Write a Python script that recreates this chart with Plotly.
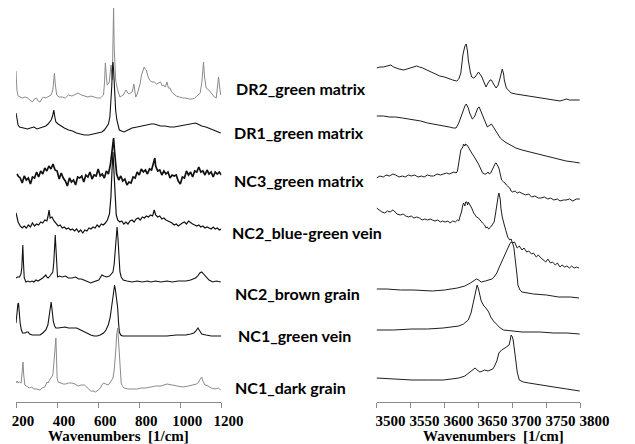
import plotly.graph_objects as go

# ---------------- DATA ----------------
SAMPLES = ["DR2_green matrix", "DR1_green matrix", "NC3_green matrix",
           "NC2_blue-green vein", "NC2_brown grain", "NC1_green vein", "NC1_dark grain"]

LOW_TICKS = [200, 400, 600, 800, 1000, 1200]
HIGH_TICKS = [3500, 3550, 3600, 3650, 3700, 3750, 3800]

# (wavenumber [1/cm], relative intensity)
DR2_LOW = [(200,31),(204,12),(210,6),(217,5),(230,4),(245,5),(256,4),(268,2),(279,0),(290,3),(299,4),(308,1),(317,0),(325,3),(333,5),(345,4),(356,5),(364,6),(371,7),(379,12),(384,24),(387,29),(391,18),(398,7),(410,5),(425,5),(440,4),(455,7),(472,6),(490,8),(502,9),(518,7),(533,6),(550,5),(565,6),(580,5),(595,4),(611,4),(620,6),(626,7),(631,20),(635,39),(640,25),(644,17),(649,18),(654,20),(659,30),(663,37),(666,28),(669,22),(672,60),(675,94),(678,55),(681,28),(685,22),(695,12),(706,5),(714,6),(722,7),(730,10),(737,12),(744,9),(750,8),(758,9),(765,10),(770,14),(774,18),(778,12),(783,5),(790,8),(796,12),(804,18),(811,27),(818,31),(824,35),(829,33),(834,32),(842,26),(850,22),(862,20),(873,20),(885,18),(896,19),(904,20),(912,16),(919,17),(927,15),(935,20),(942,14),(950,14),(958,10),(965,9),(980,6),(996,5),(1012,4),(1027,4),(1043,3),(1058,3),(1070,4),(1081,6),(1090,8),(1097,9),(1105,20),(1109,35),(1113,40),(1118,25),(1126,14),(1139,12),(1151,9),(1160,7),(1166,5),(1175,4),(1180,12),(1186,25),(1192,14),(1197,7)]

DR1_LOW = [(200,19),(205,12),(210,7),(217,5),(235,4),(256,3),(270,4),(287,5),(302,3),(318,4),(333,5),(345,6),(356,8),(365,10),(371,12),(378,16),(384,22),(389,15),(394,10),(405,8),(418,6),(435,4),(456,2),(475,1),(495,-1),(515,-2),(533,-3),(555,-3),(580,-2),(600,-1),(618,0),(630,2),(641,5),(650,8),(657,15),(662,27),(666,45),(669,62),(672,70),(675,62),(678,48),(681,35),(685,22),(691,12),(697,6),(703,2),(714,1),(726,0),(745,2),(765,4),(790,5),(811,6),(840,7),(858,8),(873,8),(890,7),(904,6),(925,6),(950,5),(970,5),(996,6),(1020,7),(1043,8),(1060,8),(1074,9),(1085,8),(1104,6),(1125,5),(1151,3),(1175,1),(1197,-1)]

NC3_LOW = [(205,8),(210,6),(220,4),(230,-1),(240,6),(250,2),(260,4),(270,-2),(280,5),(290,4),(300,10),(310,5),(320,11),(330,8),(340,14),(350,11),(360,16),(370,13),(380,18),(390,12),(400,11),(410,3),(420,9),(430,4),(440,1),(450,-4),(460,4),(470,0),(480,2),(490,-3),(500,5),(510,4),(520,6),(530,0),(540,7),(550,5),(560,10),(570,3),(580,7),(590,6),(600,13),(610,6),(620,8),(630,4),(640,11),(650,8),(660,18),(665,28),(670,40),(675,44),(680,30),(685,15),(690,8),(700,2),(710,6),(720,1),(730,3),(740,-3),(750,0),(760,-1),(770,5),(780,4),(790,10),(800,7),(810,13),(820,10),(830,12),(840,8),(850,13),(860,12),(870,20),(876,24),(880,16),(890,11),(900,12),(910,7),(920,11),(930,8),(940,10),(950,4),(960,7),(970,6),(980,7),(990,1),(1000,-2),(1010,5),(1020,4),(1030,11),(1040,7),(1050,10),(1060,5),(1070,11),(1080,10),(1090,15),(1100,10),(1110,11),(1120,7),(1130,12),(1140,8),(1150,10),(1160,5),(1170,10),(1180,8),(1190,10),(1200,7)]

NC2B_LOW = [(200,19),(210,10),(220,6),(230,4),(240,6),(250,4),(260,7),(270,5),(280,9),(290,6),(300,8),(310,7),(320,10),(330,9),(340,12),(350,11),(355,15),(361,22),(366,14),(375,15),(385,11),(395,9),(405,6),(415,7),(425,4),(435,5),(445,3),(455,4),(465,2),(475,3),(485,1),(495,3),(505,0),(515,2),(525,-1),(535,2),(545,1),(555,4),(565,3),(575,5),(585,4),(595,7),(605,5),(615,8),(625,7),(635,9),(645,12),(655,18),(662,35),(667,60),(672,80),(677,60),(682,35),(688,17),(695,12),(705,10),(715,11),(725,8),(735,10),(745,8),(755,11),(765,12),(775,10),(785,13),(795,14),(805,12),(815,15),(825,14),(835,16),(845,15),(855,17),(865,16),(873,22),(880,17),(890,15),(900,16),(910,13),(920,14),(930,12),(940,11),(950,10),(960,9),(970,7),(980,8),(990,6),(1000,8),(1010,9),(1020,10),(1030,8),(1040,11),(1050,9),(1060,8),(1070,7),(1080,6),(1090,7),(1100,5),(1110,6),(1120,4),(1130,5),(1140,4),(1150,3),(1160,5),(1170,3),(1180,4),(1190,2),(1200,3)]

NC2BR_LOW = [(200,4),(207,5),(217,5),(224,8),(228,14),(231,30),(233,37),(236,20),(240,4),(248,0),(258,1),(268,0),(278,1),(287,0),(297,2),(307,1),(317,2),(330,4),(340,6),(345,7),(350,5),(356,4),(365,6),(372,8),(379,10),(384,20),(387,32),(391,47),(394,35),(396,27),(399,12),(402,5),(412,6),(425,5),(440,6),(455,4),(472,4),(490,5),(505,3),(518,3),(530,2),(545,1),(555,0),(564,-1),(575,0),(590,1),(603,2),(612,5),(618,7),(628,6),(641,5),(655,6),(665,8),(672,10),(678,18),(684,32),(688,45),(692,55),(696,45),(700,32),(703,18),(706,10),(712,5),(722,2),(740,1),(765,0),(790,1),(815,0),(840,1),(857,0),(880,1),(905,0),(935,1),(960,0),(990,1),(1027,1),(1050,2),(1065,3),(1074,4),(1085,6),(1095,9),(1104,10),(1112,8),(1120,6),(1127,5),(1140,2),(1158,0),(1175,1),(1197,0)]

NC1G_LOW = [(200,14),(205,27),(209,33),(212,34),(215,22),(220,14),(226,7),(232,4),(245,4),(252,5),(259,5),(266,3),(279,2),(298,2),(317,2),(330,4),(345,7),(355,12),(361,19),(366,28),(371,35),(375,28),(379,20),(382,15),(388,11),(394,9),(405,9),(425,10),(440,10),(455,9),(472,9),(495,9),(515,7),(533,5),(550,3),(564,2),(580,1),(595,1),(610,2),(626,4),(638,7),(649,12),(658,19),(664,29),(670,40),(675,48),(680,52),(684,47),(689,38),(695,29),(699,15),(703,5),(710,2),(719,1),(750,1),(780,1),(820,1),(857,1),(900,1),(935,1),(980,2),(1027,2),(1050,3),(1066,4),(1076,6),(1086,9),(1095,6),(1104,3),(1125,2),(1151,1),(1175,1),(1200,1)]

NC1D_LOW = [(200,9),(205,11),(210,9),(217,10),(225,9),(229,18),(232,28),(234,30),(237,18),(240,9),(243,7),(250,6),(256,5),(265,4),(275,5),(287,3),(300,3),(317,2),(328,4),(340,5),(351,10),(356,9),(363,12),(370,14),(379,17),(384,28),(388,42),(391,50),(394,54),(397,35),(400,14),(405,10),(418,9),(430,8),(441,8),(455,9),(472,9),(487,8),(502,6),(518,7),(533,7),(548,4),(564,1),(575,1),(587,0),(600,2),(611,4),(618,7),(626,9),(637,8),(649,7),(660,10),(672,14),(678,22),(683,32),(687,45),(690,57),(693,63),(695,64),(698,55),(700,47),(703,35),(706,22),(709,14),(712,9),(718,6),(726,4),(745,3),(765,3),(790,3),(810,4),(830,4),(857,5),(880,6),(905,6),(935,8),(960,7),(985,6),(1012,5),(1040,6),(1066,7),(1080,8),(1089,10),(1097,13),(1104,15),(1110,11),(1120,7),(1135,6),(1151,4),(1170,3),(1185,4),(1197,2)]

DR2_HIGH = [(3500,34),(3505,35),(3510,35),(3515,36),(3521,37),(3525,35),(3528,34),(3533,33),(3540,32),(3545,33),(3549,34),(3554,35),(3559,36),(3563,35),(3568,34),(3574,32),(3580,30),(3587,28),(3593,26),(3600,25),(3607,23),(3612,22),(3618,21),(3621,23),(3624,29),(3627,47),(3630,56),(3632,58),(3634,50),(3635,42),(3638,30),(3640,25),(3643,24),(3645,25),(3648,28),(3650,30),(3652,28),(3655,25),(3658,20),(3661,15),(3664,19),(3667,22),(3669,22),(3671,19),(3673,17),(3676,14),(3679,17),(3681,22),(3683,28),(3685,33),(3687,28),(3688,22),(3691,14),(3695,11),(3698,9),(3705,8),(3714,7),(3722,6),(3733,5),(3742,4),(3752,3),(3760,2),(3766,1),(3770,1),(3775,2),(3779,3),(3784,2),(3790,2),(3799,2)]

DR1_HIGH = [(3500,16),(3510,16),(3519,15),(3528,15),(3538,14),(3547,13),(3556,12),(3565,11),(3575,9),(3584,8),(3593,7),(3600,6),(3607,5),(3613,4),(3617,4),(3621,9),(3624,15),(3627,22),(3630,26),(3632,28),(3635,24),(3637,19),(3641,13),(3644,15),(3647,20),(3649,24),(3651,25),(3653,22),(3656,17),(3660,10),(3663,5),(3666,7),(3669,8),(3671,6),(3673,4),(3677,-1),(3682,-6),(3689,-10),(3696,-13),(3705,-16),(3714,-18),(3726,-20),(3738,-22),(3750,-24),(3761,-26),(3770,-27),(3779,-29),(3790,-30),(3799,-31)]

NC3_HIGH = [(3500,4),(3505,6),(3510,5),(3514,7),(3519,6),(3524,8),(3528,7),(3533,5),(3538,6),(3542,5),(3547,7),(3551,6),(3556,7),(3561,5),(3566,6),(3570,5),(3575,7),(3580,6),(3584,6),(3589,8),(3594,7),(3598,8),(3603,9),(3607,8),(3610,9),(3614,10),(3617,9),(3619,11),(3620,15),(3622,24),(3624,32),(3626,34),(3627,35),(3628,38),(3630,36),(3631,38),(3633,37),(3635,35),(3638,31),(3640,29),(3643,26),(3645,24),(3648,20),(3650,18),(3652,15),(3654,12),(3656,9),(3659,8),(3661,8),(3664,10),(3666,8),(3668,9),(3670,12),(3673,15),(3675,19),(3676,19),(3678,17),(3680,14),(3682,8),(3684,2),(3687,0),(3689,-1),(3691,-3),(3694,-5),(3696,-6),(3698,-9),(3700,-10),(3704,-9),(3707,-11),(3710,-10),(3714,-11),(3719,-13),(3724,-12),(3728,-15),(3733,-14),(3738,-16),(3742,-16),(3747,-15),(3752,-17),(3756,-16),(3761,-18),(3766,-17),(3770,-19),(3775,-18),(3779,-18),(3784,-17),(3789,-19),(3794,-17),(3799,-17)]

NC2B_HIGH = [(3500,24),(3504,22),(3508,20),(3512,19),(3516,21),(3520,20),(3524,22),(3526,21),(3530,18),(3535,17),(3539,18),(3543,16),(3547,15),(3551,16),(3555,14),(3559,15),(3563,14),(3567,12),(3571,13),(3575,12),(3579,13),(3582,12),(3586,11),(3590,12),(3594,10),(3597,11),(3601,10),(3605,11),(3608,9),(3612,11),(3616,10),(3619,12),(3621,11),(3623,16),(3625,20),(3627,27),(3628,29),(3630,26),(3631,30),(3633,30),(3634,27),(3635,30),(3637,28),(3640,24),(3643,19),(3647,15),(3650,14),(3653,11),(3656,9),(3659,7),(3661,4),(3663,5),(3665,3),(3668,5),(3671,8),(3673,10),(3675,18),(3677,30),(3679,36),(3680,39),(3682,33),(3683,24),(3685,15),(3688,7),(3690,2),(3693,-5),(3696,-8),(3698,-7),(3700,-11),(3703,-10),(3707,-16),(3710,-14),(3714,-18),(3717,-16),(3721,-20),(3724,-19),(3728,-22),(3731,-21),(3735,-25),(3738,-23),(3742,-26),(3745,-28),(3749,-30),(3752,-27),(3756,-31),(3759,-30),(3763,-33),(3766,-31),(3770,-35),(3773,-33),(3777,-35),(3780,-34),(3784,-36),(3787,-34),(3791,-36),(3794,-35),(3798,-36)]

NC2BR_HIGH = [(3500,-7),(3515,-7),(3535,-8),(3555,-8),(3582,-9),(3600,-8),(3619,-6),(3630,-4),(3638,-1),(3643,1),(3647,3),(3650,2),(3654,0),(3660,1),(3666,2),(3670,3),(3673,5),(3677,9),(3680,14),(3684,20),(3687,25),(3690,30),(3693,34),(3696,38),(3698,40),(3700,39),(3702,35),(3704,25),(3705,17),(3707,5),(3708,-3),(3711,-8),(3714,-10),(3722,-11),(3731,-12),(3750,-13),(3768,-15),(3785,-15),(3798,-16)]

NC1G_HIGH = [(3500,7),(3525,7),(3552,8),(3575,8),(3598,9),(3610,10),(3621,11),(3628,13),(3635,17),(3639,24),(3642,34),(3645,45),(3648,52),(3650,48),(3651,45),(3654,36),(3658,31),(3661,29),(3665,25),(3668,20),(3672,16),(3677,12),(3682,9),(3687,7),(3700,6),(3714,5),(3740,5),(3761,4),(3780,4),(3799,3)]

NC1D_HIGH = [(3500,14),(3525,13),(3552,12),(3575,12),(3598,12),(3610,13),(3621,14),(3630,16),(3635,19),(3640,21),(3645,24),(3648,22),(3652,20),(3656,21),(3659,22),(3664,21),(3668,22),(3671,23),(3673,25),(3677,31),(3680,39),(3684,42),(3689,44),(3693,46),(3695,47),(3697,53),(3698,57),(3700,55),(3701,52),(3703,42),(3705,32),(3707,20),(3710,12),(3716,10),(3724,9),(3740,7),(3761,5),(3780,3),(3799,1)]

LOW_SPECTRA = [DR2_LOW, DR1_LOW, NC3_LOW, NC2B_LOW, NC2BR_LOW, NC1G_LOW, NC1D_LOW]
HIGH_SPECTRA = [DR2_HIGH, DR1_HIGH, NC3_HIGH, NC2B_HIGH, NC2BR_HIGH, NC1G_HIGH, NC1D_HIGH]

# ---------------- LAYOUT / STYLE ----------------
W, H = 635, 444
PLOT_H = 402
OFFSETS = [300, 270, 220, 170, 120, 65, 10]          # vertical stacking
LOW_COLORS = ["#8a8a8a", "#111111", "#111111", "#111111", "#111111", "#111111", "#8a8a8a"]
LOW_WIDTHS = [1, 1.1, 1.7, 1.2, 1.1, 1.1, 1]
HIGH_COLOR = "#1e1e1e"
LABEL_POS = [(243, 88), (240, 132), (240, 180), (238, 232), (242, 293), (245, 335), (242, 387)]

fig = go.Figure()
for k, spec in enumerate(LOW_SPECTRA):
    xs = [p[0] for p in spec]
    ys = [p[1] + OFFSETS[k] for p in spec]
    fig.add_trace(go.Scatter(x=xs, y=ys, mode="lines", xaxis="x", yaxis="y",
                             line=dict(color=LOW_COLORS[k], width=LOW_WIDTHS[k]),
                             hoverinfo="skip", showlegend=False))
for k, spec in enumerate(HIGH_SPECTRA):
    xs = [p[0] for p in spec]
    ys = [p[1] + OFFSETS[k] for p in spec]
    fig.add_trace(go.Scatter(x=xs, y=ys, mode="lines", xaxis="x2", yaxis="y",
                             line=dict(color=HIGH_COLOR, width=1),
                             hoverinfo="skip", showlegend=False))

tickfont = dict(family="Liberation Serif", size=15, color="#000000", weight="bold")
axis_common = dict(showgrid=False, zeroline=False, showline=True, linecolor="#8a8a8a",
                   linewidth=1, ticks="outside", ticklen=5, tickcolor="#8a8a8a",
                   tickfont=tickfont, anchor="y", ticklabeloverflow="allow", tickangle=0)

fig.update_layout(
    width=W, height=H,
    margin=dict(l=0, r=0, t=0, b=H - PLOT_H),
    paper_bgcolor="white", plot_bgcolor="white",
    xaxis=dict(domain=[12.7 / W, 229.3 / W], range=[200, 1200], tickvals=LOW_TICKS,
               ticklabelshift=7, **axis_common),
    xaxis2=dict(domain=[393 / W, 608 / W], range=[3500, 3800], tickvals=HIGH_TICKS,
                ticklabelshift=14, **axis_common),
    yaxis=dict(range=[0, PLOT_H], visible=False, fixedrange=True),
)

annotations = []
for name, (px, py) in zip(SAMPLES, LABEL_POS):
    annotations.append(dict(text=name, xref="paper", yref="y", x=px / W, y=PLOT_H - py,
                            xanchor="left", yanchor="middle", showarrow=False,
                            font=dict(family="Lato", size=16, color="#000000", weight="bold")))
for cx in (121, 516):
    annotations.append(dict(text="Wavenumbers  [1/cm]", xref="paper", yref="paper",
                            x=cx / W, y=(PLOT_H - 436) / PLOT_H, xanchor="center", yanchor="middle",
                            showarrow=False,
                            font=dict(family="Liberation Serif", size=15, color="#000000", weight="bold")))
fig.update_layout(annotations=annotations)

fig.write_html("out.html")
